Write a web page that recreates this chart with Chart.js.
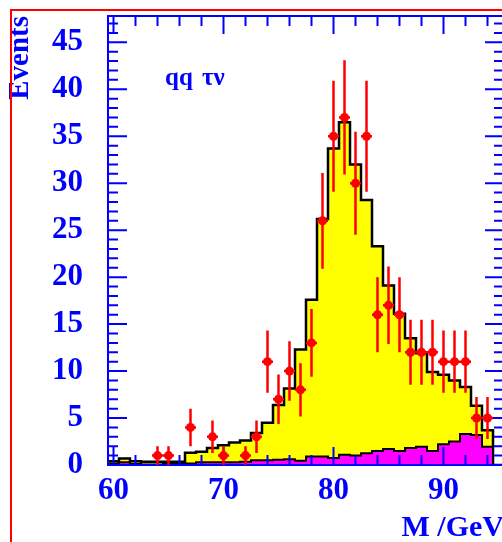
<!DOCTYPE html>
<html>
<head>
<meta charset="utf-8">
<script src="https://cdn.jsdelivr.net/npm/chart.js@4"></script>
<style>
  html, body { margin: 0; padding: 0; background: #fff; overflow: hidden; }
  #wrap { position: relative; width: 502px; height: 542px; overflow: hidden; }
  #frame { position: absolute; left: 10px; top: 9px; width: 600px; height: 600px;
           border: 2px solid #ff0000; pointer-events: none; }
  canvas { position: absolute; left: 0; top: 0; }
</style>
</head>
<body>
<div id="wrap">
  <canvas id="chart" width="520" height="560"></canvas>
  <div id="frame"></div>
</div>
<script>
// bins are 1 GeV wide, centred on integer masses
const binCenters  = [60, 61, 62, 63, 64, 65, 66, 67, 68, 69, 70, 71, 72, 73, 74, 75, 76, 77,
                     78, 79, 80, 81, 82, 83, 84, 85, 86, 87, 88, 89, 90, 91, 92, 93, 94, 95];
const totalCounts = [0.4, 0.7, 0.4, 0.35, 0.35, 0.35, 0.35, 1.3, 1.4, 1.8, 2.1, 2.4, 2.6, 3.4, 4.5, 6.4, 8.15, 12.3,
                     17.6, 26.2, 33.7, 36.5, 32.0, 28.2, 23.3, 19.1, 16.1, 13.5, 11.9, 9.9, 9.6, 9.0, 8.3, 6.3, 3.7, 0];
const bkgCounts   = [0.15, 0.3, 0.1, 0.05, 0.05, 0.1, 0.1, 0.15, 0.3, 0.3, 0.3, 0.3, 0.35, 0.5, 0.5, 0.55, 0.6, 0.45,
                     0.9, 0.9, 0.75, 1.1, 1.0, 1.25, 1.5, 1.7, 1.5, 1.8, 1.95, 1.5, 2.2, 2.5, 3.3, 3.2, 1.95, 0];

const dataMass   = [64, 65, 67, 69, 70, 72, 73, 74, 75, 76, 77, 78, 79, 80, 81, 82, 83, 84,
                    85, 86, 87, 88, 89, 90, 91, 92, 93, 94];
const dataCounts = [1, 1, 4, 3, 1, 1, 3, 11, 7, 10, 8, 13, 26, 35, 37, 30, 35, 16,
                    17, 16, 12, 12, 12, 11, 11, 11, 5, 5];

const xTicks = [60, 70, 80, 90];
const yTicks = [0, 5, 10, 15, 20, 25, 30, 35, 40, 45];

const BLUE = '#0000ff';
const RED  = '#ff0000';

function steps(centers, values) {
    const pts = [];
    centers.forEach((c, i) => {
        pts.push({ x: c - 0.5, y: values[i] });
        pts.push({ x: c + 0.5, y: values[i] });
    });
    return pts;
}

function noPad(s) {
    s.paddingTop = 0; s.paddingBottom = 0; s.paddingLeft = 0; s.paddingRight = 0;
}

// axes frame with inward ticks, plus error bars - drawn after the fills, before the markers
const framePlugin = {
    id: 'frame',
    afterDatasetDraw(chart, args) {
        if (args.index !== 1) return;
        const { ctx, chartArea: a, scales: { x, y } } = chart;
        ctx.save();
        ctx.strokeStyle = BLUE;
        ctx.lineWidth = 2;
        ctx.strokeRect(a.left, a.top, a.right - a.left, a.bottom - a.top);
        ctx.beginPath();
        for (let v = 60; v < x.max; v += 2) {
            const px = x.getPixelForValue(v);
            const len = v % 10 === 0 ? 18 : 10;
            ctx.moveTo(px, a.bottom); ctx.lineTo(px, a.bottom - len);
            ctx.moveTo(px, a.top);    ctx.lineTo(px, a.top + len);
        }
        for (let v = 1; v < y.max; v++) {
            const py = y.getPixelForValue(v);
            const len = v % 5 === 0 ? 19 : 10;
            ctx.moveTo(a.left, py);  ctx.lineTo(a.left + len, py);
            ctx.moveTo(a.right, py); ctx.lineTo(a.right - len, py);
        }
        ctx.stroke();

        ctx.strokeStyle = RED;
        ctx.lineWidth = 2.5;
        ctx.beginPath();
        dataMass.forEach((m, i) => {
            const n = dataCounts[i], e = Math.sqrt(n);
            const px = x.getPixelForValue(m);
            const py = y.getPixelForValue(n);
            ctx.moveTo(px, y.getPixelForValue(Math.max(0, n - e)));
            ctx.lineTo(px, y.getPixelForValue(n + e));
            ctx.moveTo(x.getPixelForValue(m - 0.5), py);
            ctx.lineTo(x.getPixelForValue(m + 0.5), py);
        });
        ctx.stroke();
        ctx.restore();
    },
    afterDraw(chart) {
        const { ctx, chartArea: a } = chart;
        ctx.save();
        ctx.fillStyle = BLUE;
        ctx.font = 'bold 25px "Liberation Serif"';
        ctx.textBaseline = 'alphabetic';
        ctx.fillText('qq', a.left + 57, a.top + 69);
        ctx.fillText('τν', a.left + 94, a.top + 69);
        ctx.restore();
    }
};

const tickFont = { family: '"Liberation Serif"', size: 31, weight: 'bold' };

new Chart(document.getElementById('chart'), {
    type: 'line',
    data: {
        datasets: [
            {
                label: 'total',
                data: steps(binCenters, totalCounts),
                borderColor: '#000',
                borderWidth: 2.5,
                backgroundColor: '#ffff00',
                fill: 'origin',
                pointRadius: 0,
                order: 2
            },
            {
                label: 'background',
                data: steps(binCenters, bkgCounts),
                borderColor: '#000',
                borderWidth: 2,
                backgroundColor: '#ff00ff',
                fill: 'origin',
                pointRadius: 0,
                order: 1
            },
            {
                label: 'data',
                type: 'scatter',
                data: dataMass.map((m, i) => ({ x: m, y: dataCounts[i] })),
                pointRadius: 4.5,
                pointBackgroundColor: RED,
                pointBorderColor: RED,
                pointBorderWidth: 0,
                order: 0
            }
        ]
    },
    options: {
        responsive: false,
        devicePixelRatio: 1,
        animation: false,
        layout: { padding: 0 },
        plugins: { legend: { display: false }, tooltip: { enabled: false } },
        scales: {
            x: {
                type: 'linear', position: 'bottom', min: 59.5, max: 95.5,
                afterBuildTicks: s => { s.ticks = xTicks.map(v => ({ value: v })); },
                afterFit: s => { s.height = 95; noPad(s); },
                grid: { display: false, drawTicks: false },
                border: { display: false },
                ticks: { color: BLUE, font: tickFont, padding: 7, maxRotation: 0 },
                title: {
                    display: true, text: 'M /GeV', align: 'end', color: BLUE,
                    font: { family: '"Liberation Serif"', size: 30, weight: 'bold' },
                    padding: { top: 0, bottom: 14 }
                }
            },
            x2: {
                type: 'linear', position: 'top', min: 59.5, max: 95.5,
                afterFit: s => { s.height = 16; noPad(s); },
                grid: { display: false, drawTicks: false },
                border: { display: false },
                ticks: { display: false }
            },
            y: {
                type: 'linear', position: 'left', min: 0, max: 47.8,
                afterBuildTicks: s => { s.ticks = yTicks.map(v => ({ value: v })); },
                afterFit: s => { s.width = 108; noPad(s); },
                grid: { display: false, drawTicks: false },
                border: { display: false },
                ticks: { color: BLUE, font: tickFont, padding: 25 },
                title: {
                    display: true, text: 'Events', align: 'end', color: BLUE,
                    font: { family: '"Liberation Serif"', size: 29, weight: 'bold' },
                    padding: { top: 3, bottom: 0 }
                }
            },
            y2: {
                type: 'linear', position: 'right', min: 0, max: 47.8,
                afterFit: s => { s.width = 16; noPad(s); },
                grid: { display: false, drawTicks: false },
                border: { display: false },
                ticks: { display: false }
            }
        }
    },
    plugins: [framePlugin]
});
</script>
</body>
</html>
